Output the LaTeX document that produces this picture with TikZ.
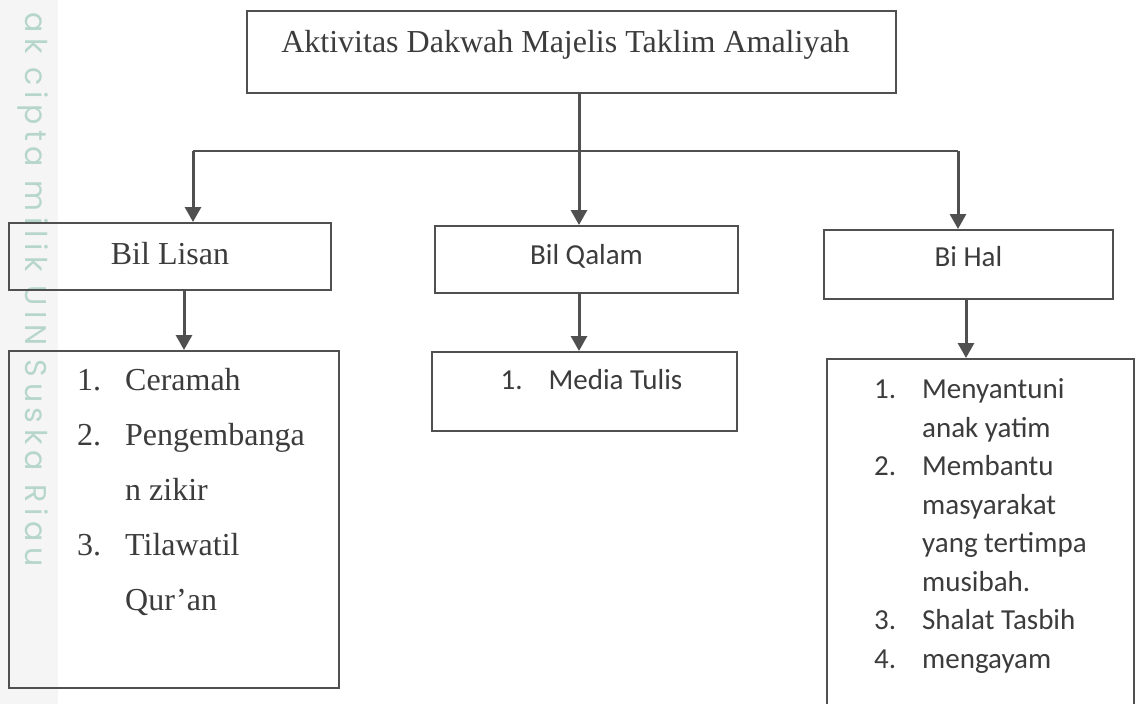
\documentclass[tikz,border=0pt]{standalone}
\usepackage{fontspec}
\setmainfont{Liberation Serif}
\newfontfamily\calibri{Carlito}
\newfontfamily\wmfont[LetterSpace=19]{Poppins}
\usepackage{tikz}
\usetikzlibrary{calc, arrows.meta}
\definecolor{linegray}{HTML}{505050}
\definecolor{textgray}{HTML}{3C3C3C}
\definecolor{wmteal}{HTML}{B6D6CC}
\definecolor{stripgray}{HTML}{F5F5F5}
\tikzstyle{arrow} = [draw=linegray,line width=3pt,->,>={Triangle[width=16pt,length=15pt]}]
\newcommand{\listno}[1]{\makebox[48pt][l]{#1}}

\begin{document}
\begin{tikzpicture}[
    x=1pt, y=-1pt,
    box/.style={draw=linegray, line width=2pt, rectangle, anchor=north west, inner sep=0pt, text=textgray},
    serifhead/.style={box, font=\fontsize{32}{38}\selectfont, text height=22pt, text depth=7pt},
    sanshead/.style={box, font=\calibri\fontsize{29}{35}\selectfont, text height=20pt, text depth=11pt},
    listtext/.style={anchor=north west, inner sep=0pt, align=left, text=textgray},
    wmark/.style={rotate=-90, anchor=base west, inner sep=0pt, text=wmteal, font=\wmfont\fontsize{30}{32}\selectfont},
  ]
  \clip (0,0) rectangle (1136,704);
  \fill[white] (0,0) rectangle (1136,704);
  \fill[stripgray] (0,0) rectangle (58,704);

  \node[wmark] (watermark) at (25,12) {ak cipta milik UIN Suska Riau};

  % top box
  \node[box, font=\fontsize{32}{38}\selectfont, minimum width=649pt, minimum height=82pt,
        text height=41pt, text depth=41pt] (aktivitas) at (246,10) {Aktivitas Dakwah Majelis Taklim Amaliyah\hspace*{12pt}};

  % second row
  \node[serifhead, minimum width=322pt, minimum height=67pt] (lisan) at (8,222) {Bil Lisan};
  \node[sanshead, minimum width=303pt, minimum height=67pt] (qalam) at (434,225) {Bil Qalam};
  \node[sanshead, text depth=17pt, minimum width=289pt, minimum height=69pt] (hal) at (823,229) {Bi Hal};

  % third row
  \node[box, minimum width=330pt, minimum height=337pt] (lisanlist) at (8,350) {};
  \node[box, font=\calibri\fontsize{29}{35}\selectfont, minimum width=305pt, minimum height=79pt,
        text height=20pt, text depth=25pt] (qalamlist) at (431,351) {\hspace*{14pt}\listno{1.}Media Tulis};
  \node[box, minimum width=307pt, minimum height=362pt] (hallist) at (826,358) {};

  \node[listtext, font=\fontsize{32}{55}\selectfont] (lisanitems) at ($(lisanlist.north west)+(69,18)$)
    {\listno{1.}Ceramah\\ \listno{2.}Pengembanga\\ \listno{}n zikir\\ \listno{3.}Tilawatil\\ \listno{}Qur’an};
  \node[listtext, font=\calibri\fontsize{29}{38.5}\selectfont] (halitems) at ($(hallist.north west)+(48,20.5)$)
    {\listno{1.}Menyantuni\\ \listno{}anak yatim\\ \listno{2.}Membantu\\ \listno{}masyarakat\\
     \listno{}yang tertimpa\\ \listno{}musibah.\\ \listno{3.}Shalat Tasbih\\ \listno{4.}mengayam};

  % connectors
  \coordinate (splitl) at (193,151);
  \coordinate (splitm) at (579,151);
  \coordinate (splitr) at (958,151);
  \draw[linegray, line width=1.6pt] (splitl) -- (splitr);
  \draw[arrow] (aktivitas.south -| splitm) -- (splitm |- qalam.north);
  \draw[arrow] (splitl) -- (splitl |- lisan.north);
  \draw[arrow] (splitr) -- (splitr |- hal.north);
  \draw[arrow] ([xshift=14pt]lisan.south) -- ([xshift=14pt]lisan.south |- lisanlist.north);
  \draw[arrow] (qalam.south -| splitm) -- (splitm |- qalamlist.north);
  \draw[arrow] ([xshift=-2.5pt]hal.south) -- ([xshift=-2.5pt]hal.south |- hallist.north);
\end{tikzpicture}
\end{document}
